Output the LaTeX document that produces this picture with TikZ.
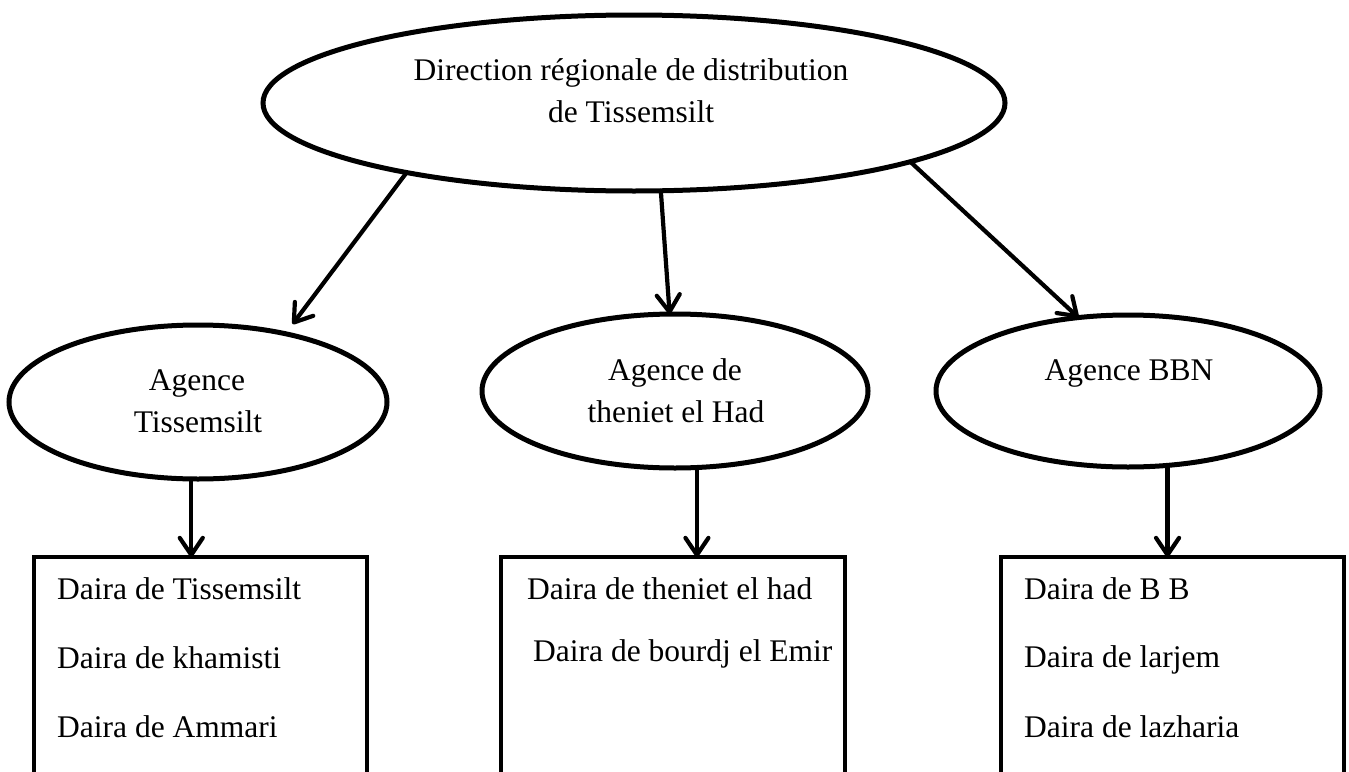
\documentclass[tikz,border=0pt]{standalone}
\usepackage{fontspec}
\setmainfont{Liberation Serif}
\usetikzlibrary{shapes.geometric,arrows.meta}
\newcommand\diagfont{\fontsize{31.5pt}{38pt}\selectfont}
\begin{document}
\begin{tikzpicture}[x=1pt,y=-1pt,
  oval/.style={draw,ellipse,line width=5pt,inner sep=0pt,outer sep=0pt},
  boxnode/.style={draw,rectangle,line width=4.3pt,inner sep=0pt,outer sep=0pt,anchor=north west,minimum height=240pt},
  lbl/.style={inner sep=0pt,font=\diagfont},
  arr/.style={line width=4.2pt,line cap=round,-{Straight Barb[length=17pt,width=23pt,round]}},
]
\useasboundingbox (0,0) rectangle (1349,771);
\fill[white] (0,0) rectangle (1349,771);

% ellipses
\node[oval,minimum width=742pt,minimum height=176pt] (top) at (634,103) {};
\node[oval,minimum width=378pt,minimum height=154pt] (agL) at (198,402) {};
\node[oval,minimum width=386pt,minimum height=154pt] (agM) at (675,391) {};
\node[oval,minimum width=384pt,minimum height=152pt] (agR) at (1128,391) {};

% boxes
\node[boxnode,minimum width=333pt] (bL) at (34,557) {};
\node[boxnode,minimum width=344pt] (bM) at (501,557) {};
\node[boxnode,minimum width=343pt] (bR) at (1001,557) {};

% ellipse texts
\node[lbl,anchor=base] (t1) at (631,80) {Direction régionale de distribution};
\node[lbl,anchor=base] (t2) at (631,122) {de Tissemsilt};
\node[lbl,anchor=base] (l1) at (197,390) {Agence};
\node[lbl,anchor=base] (l2) at (198,432) {Tissemsilt};
\node[lbl,anchor=base] (m1) at (675,380) {Agence de};
\node[lbl,anchor=base] (m2) at (676,422) {theniet el Had};
\node[lbl,anchor=base] (r1) at (1129,380) {Agence BBN};

% box texts
\node[lbl,anchor=base west] (bl1) at (57,599) {Daira de Tissemsilt};
\node[lbl,anchor=base west] (bl2) at (57,668) {Daira de khamisti};
\node[lbl,anchor=base west] (bl3) at (57,737) {Daira de Ammari};
\node[lbl,anchor=base west] (bm1) at (527,599) {Daira de theniet el had};
\node[lbl,anchor=base west] (bm2) at (533,661) {Daira de bourdj el Emir};
\node[lbl,anchor=base west] (br1) at (1024,599) {Daira de B B};
\node[lbl,anchor=base west] (br2) at (1024,667) {Daira de larjem};
\node[lbl,anchor=base west] (br3) at (1024,737) {Daira de lazharia};

% connectors
\draw[arr,shorten >=12pt] (top.197.7) -- (agL.38.4);
\draw[arr] (top.287) -- (agM.94);
\draw[arr] (top.348.9) -- (agR.124);
\draw[arr] (agL.265) -- (agL.265 |- bL.north);
\draw[arr] (agM.286) -- (agM.286 |- bM.north);
\draw[arr] (agR.298.3) -- (agR.298.3 |- bR.north);
\end{tikzpicture}
\end{document}
